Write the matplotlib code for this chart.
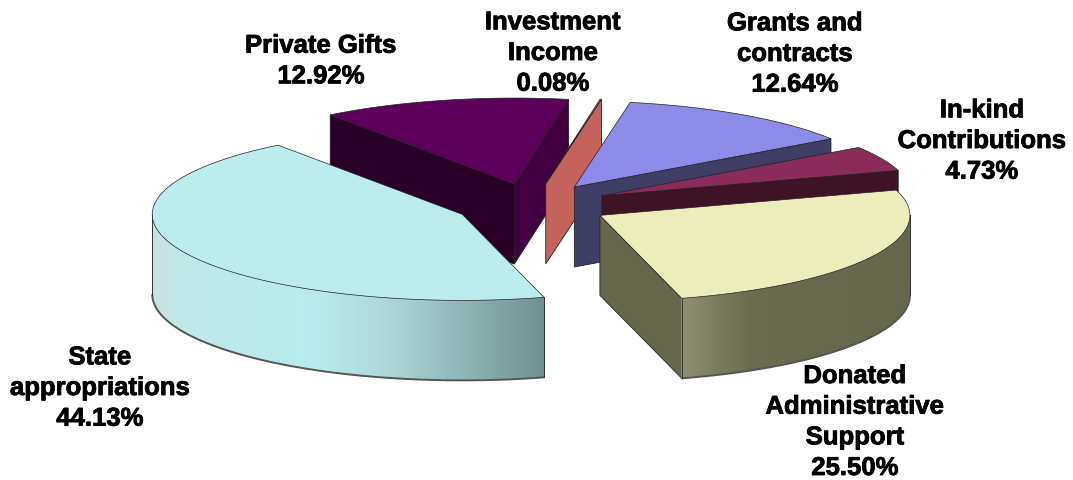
import numpy as np
import matplotlib
matplotlib.use("Agg")
import matplotlib.pyplot as plt
import matplotlib.patheffects as pe
from matplotlib.patches import Polygon
from matplotlib.colors import to_rgb

# Revenue sources, clockwise from the front of the pie
names = ["State\nappropriations", "Private Gifts", "Investment\nIncome",
         "Grants and\ncontracts", "In-kind\nContributions",
         "Donated\nAdministrative\nSupport"]
shares = [44.13, 12.92, 0.08, 12.64, 4.73, 25.50]

top_colors = ["#BBEDED", "#5C005C", "#C5625C", "#8C8CE8", "#8A2C5A", "#EDEDBC"]
# Walls on the clockwise and counter-clockwise cuts of each slice
cw_colors = ["#6E9090", "#420042", "#C5625C", "#3E3E66", "#3F1226", "#66664C"]
ccw_colors = ["#6E9090", "#2A0028", "#C5625C", "#3E3E66", "#3F1226", "#66664C"]
rim_stops = {
    0: [(0.0, "#CBE0E0"), (0.08, "#BDE9E9"), (0.42, "#B8ECEC"), (0.62, "#A9D4D4"), (1.0, "#6E9090")],
    5: [(0.0, "#8E8E70"), (0.3, "#6A6A50"), (1.0, "#66664C")],
}
label_xy = [(100, 388), (321, 61), (553, 53), (795, 54), (982, 141), (855, 422)]

# Oblique projection of the exploded pie, in figure pixels
CX, CY = 532, 205
RX, RY = 310, 86
DEPTH = 80
EXPLODE = 0.25
START = 285.3
LINE = "#222222"

fig = plt.figure(figsize=(10.73, 4.8), dpi=100, facecolor="white")
ax = fig.add_axes([0, 0, 1, 1])
ax.set_xlim(0, 1073)
ax.set_ylim(480, 0)
ax.axis("off")


def unit(deg):
    r = np.radians(deg)
    return np.array([RX * np.cos(r), -RY * np.sin(r)])


def blend(stops, f):
    xs = [s[0] for s in stops]
    rgb = np.array([to_rgb(s[1]) for s in stops])
    return tuple(np.interp(f, xs, rgb[:, k]) for k in range(3))


spans = np.array(shares) / sum(shares) * 360.0
highs = START - np.concatenate([[0], np.cumsum(spans)[:-1]])
lows = highs - spans


def draw_slice(i):
    hi, lo = highs[i], lows[i]
    mid = (hi + lo) / 2
    apex = np.array([CX, CY]) + EXPLODE * unit(mid)
    down = np.array([0, DEPTH])

    # Cut faces turned toward the viewer
    for edge, normal, col in [(lo, lo - 90, cw_colors[i]), (hi, hi + 90, ccw_colors[i])]:
        if np.sin(np.radians(normal)) < 0:
            rim = apex + unit(edge)
            ax.add_patch(Polygon([apex, rim, rim + down, apex + down], closed=True,
                                 facecolor=col, edgecolor=LINE, lw=0.6))

    # Outer wall, shaded left to right
    ts = np.linspace(hi, lo, 500)
    vis = ts[np.sin(np.radians(ts)) < 0]
    if len(vis) > 1 and i in rim_stops:
        pts = np.array([apex + unit(t) for t in vis])
        x0, x1 = pts[:, 0].min(), pts[:, 0].max()
        for a, b in zip(pts[:-1], pts[1:]):
            f = ((a[0] + b[0]) / 2 - x0) / (x1 - x0)
            ax.add_patch(Polygon([a, b, b + down, a + down], closed=True,
                                 facecolor=blend(rim_stops[i], f), edgecolor="none",
                                 lw=0, antialiased=False))
        ax.plot(pts[:, 0], pts[:, 1] + DEPTH, color="#555555", lw=1.4, solid_capstyle="round")
        for end in (pts[0], pts[-1]):
            ax.plot([end[0], end[0]], [end[1], end[1] + DEPTH], color="#333333", lw=0.7)

    # Top face
    arc = [apex + unit(t) for t in np.linspace(hi, lo, max(3, int(spans[i] * 2)))]
    ax.add_patch(Polygon([apex] + arc, closed=True, facecolor=top_colors[i],
                         edgecolor=LINE, lw=0.5, joinstyle="round"))


for idx in [1, 2, 3, 4, 5, 0]:
    draw_slice(idx)

for name, share, (x, y) in zip(names, shares, label_xy):
    ax.text(x, y, f"{name}\n{share:.2f}%", ha="center", va="center", multialignment="center",
            family="Liberation Sans", weight="bold", fontsize=18.5, color="black", linespacing=1.35,
            path_effects=[pe.withStroke(linewidth=0.6, foreground="black")])

fig.savefig("out.png", dpi=100, facecolor="white")
